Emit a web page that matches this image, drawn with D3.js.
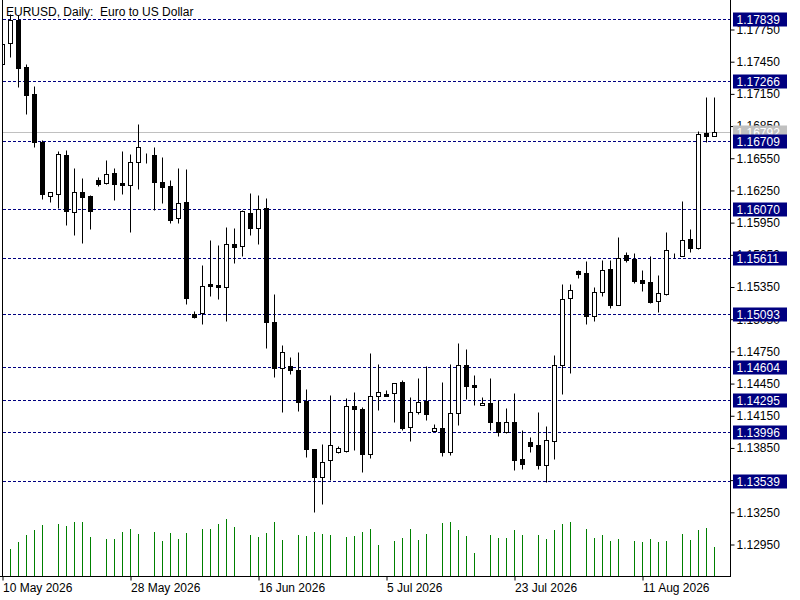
<!DOCTYPE html>
<html>
<head>
<meta charset="utf-8">
<script src="https://cdn.jsdelivr.net/npm/d3@7"></script>
<style>
  body { margin: 0; background: #fff; }
  svg { display: block; font-family: "Liberation Sans", Arial, sans-serif; }
</style>
</head>
<body>
<svg width="800" height="600"></svg>
<script>
// ### Data ###
// bar index -1 is the partly hidden bar at the left edge
var firstBar = -1;
var opens = [1.17424,1.17617,1.17838,1.17393,1.17142,1.16695,1.16197,1.16210,1.16576,1.16043,
  1.16232,1.16194,1.16341,1.16313,1.16409,1.16315,1.16294,1.16508,1.16583,1.16576,
  1.16325,1.16288,1.15987,1.16138,1.15098,1.15102,1.15375,1.15368,1.15344,1.15747,
  1.15731,1.16036,1.15894,1.16085,1.15018,1.14586,1.14608,1.14571,1.14285,1.13838,
  1.13574,1.13732,1.13803,1.13816,1.14235,1.14210,1.13785,1.14325,1.14350,1.14357,
  1.14462,1.14036,1.14180,1.14285,1.14002,1.14030,1.13803,1.14170,1.14617,1.14431,
  1.14245,1.14266,1.14089,1.13990,1.14089,1.13745,1.13900,1.13872,1.13682,1.13909,
  1.14615,1.15241,1.15496,1.15477,1.15079,1.15297,1.15514,1.15179,1.15645,1.15608,
  1.15412,1.15393,1.15214,1.15284,1.15638,1.15633,1.15791,1.15713,1.16778,1.16756];
var highs = [1.17648,1.17890,1.17880,1.17424,1.17219,1.16716,1.16232,1.16614,1.16623,1.16455,
  1.16362,1.16201,1.16369,1.16530,1.16455,1.16614,1.16583,1.16865,1.16595,1.16654,
  1.16555,1.16343,1.16452,1.16443,1.15123,1.15554,1.15785,1.15738,1.15906,1.15896,
  1.16060,1.16222,1.16201,1.16173,1.15279,1.14806,1.14692,1.14738,1.14397,1.13840,
  1.13884,1.14341,1.13868,1.14310,1.14371,1.14229,1.14732,1.14629,1.14384,1.14455,
  1.14480,1.14319,1.14496,1.14611,1.14068,1.14459,1.14629,1.14822,1.14769,1.14527,
  1.14319,1.14496,1.14291,1.14217,1.14357,1.14015,1.13947,1.14182,1.14049,1.14713,
  1.15375,1.15375,1.15500,1.15589,1.15347,1.15598,1.15598,1.15812,1.15673,1.15663,
  1.15505,1.15635,1.15458,1.15859,1.15663,1.16148,1.15887,1.16800,1.17117,1.17117];
var lows = [1.17387,1.17492,1.17213,1.16955,1.16648,1.16166,1.16136,1.16083,1.15921,1.15828,
  1.15759,1.15884,1.16290,1.16303,1.16157,1.16213,1.15862,1.16257,1.16505,1.16064,
  1.16132,1.15946,1.15946,1.15186,1.15055,1.14999,1.15266,1.15232,1.15024,1.15573,
  1.15638,1.15831,1.15750,1.14781,1.14511,1.14176,1.14539,1.14185,1.13760,1.13244,
  1.13319,1.13542,1.13794,1.13807,1.13822,1.13617,1.13747,1.14201,1.14331,1.14083,
  1.14008,1.13906,1.14161,1.14108,1.14000,1.13766,1.13775,1.14058,1.14301,1.14241,
  1.14243,1.14015,1.13952,1.13980,1.13636,1.13649,1.13803,1.13645,1.13527,1.13738,
  1.14347,1.14548,1.15433,1.15005,1.15024,1.15266,1.15145,1.15173,1.15582,1.15387,
  1.15312,1.15200,1.15114,1.15275,1.15620,1.15630,1.15670,1.15701,1.16695,1.16750];
var closes = [1.17610,1.17835,1.17390,1.17138,1.16695,1.16216,1.16229,1.16586,1.16057,1.16229,
  1.16188,1.16057,1.16309,1.16399,1.16303,1.16294,1.16508,1.16648,1.16583,1.16322,
  1.16281,1.15974,1.16126,1.15247,1.15067,1.15353,1.15359,1.15350,1.15747,1.15717,
  1.16055,1.15894,1.16073,1.15018,1.14586,1.14738,1.14576,1.14269,1.13831,1.13572,
  1.13714,1.13872,1.13847,1.14235,1.14204,1.13785,1.14329,1.14366,1.14334,1.14446,
  1.14033,1.14180,1.14275,1.14157,1.14030,1.13803,1.14173,1.14617,1.14427,1.14409,
  1.14266,1.14083,1.13996,1.14089,1.13729,1.13691,1.13868,1.13682,1.13919,1.14615,
  1.15235,1.15316,1.15471,1.15079,1.15297,1.15502,1.15173,1.15614,1.15601,1.15405,
  1.15387,1.15207,1.15288,1.15689,1.15638,1.15782,1.15713,1.16769,1.16756,1.16792];
// tick volume, thousands
var volumes = [0,27,34,41,46,51,0,52,50,54,54,39,0,37,37,44,47,42,0,44,35,43,37,43,0,
  47,47,52,57,49,0,41,39,43,54,36,0,41,40,44,42,41,0,39,40,44,47,31,0,35,38,47,36,42,0,
  53,54,46,40,23,0,41,38,38,46,41,0,41,37,46,52,54,0,47,38,41,35,37,0,35,34,37,34,35,0,
  42,36,46,48,29];

var levels = [1.17839,1.17266,1.16709,1.16070,1.15611,1.15093,1.14604,1.14295,1.13996,1.13539];
var lastPrice = 1.16792;

var yTicks = [1.17750,1.17450,1.17150,1.16850,1.16550,1.16250,1.15950,1.15650,1.15350,
  1.15050,1.14750,1.14450,1.14150,1.13850,1.13550,1.13250,1.12950];
var xTickBars = [-1,15,31,47,63,79];
var xTickLabels = ["10 May 2026","28 May 2026","16 Jun 2026","5 Jul 2026","23 Jul 2026","11 Aug 2026"];

var bars = opens.map(function(o, i) {
  return {i: i + firstBar, o: o, h: highs[i], l: lows[i], c: closes[i], v: volumes[i]};
});

// ### Canvas ###
var svg = d3.select('svg');
var plotLeft = 3, plotRight = 730, plotBottom = 576;

var xScale = d3.scaleLinear().domain([-1, 88]).range([2.5, 714.5]);
var yScale = d3.scaleLinear().domain([1.12950, 1.17750]).range([544, 29]);
var vScale = d3.scaleLinear().domain([0, 57]).range([plotBottom, plotBottom - 57]);

function py(p) { return Math.round(yScale(p)) + 0.5; }

svg.append('clipPath').attr('id', 'plot')
  .append('rect').attr('x', plotLeft).attr('y', 0)
  .attr('width', plotRight - plotLeft).attr('height', plotBottom);

var plot = svg.append('g').attr('clip-path', 'url(#plot)');

// ### Volumes ###
plot.selectAll('line.vol')
  .data(bars.filter(function(d) { return d.v > 0; }))
  .enter().append('line')
  .attr('class', 'vol')
  .attr('x1', function(d) { return xScale(d.i); })
  .attr('x2', function(d) { return xScale(d.i); })
  .attr('y1', plotBottom)
  .attr('y2', function(d) { return Math.round(vScale(d.v)); })
  .attr('stroke', '#008000')
  .attr('stroke-width', 1);

// ### Levels ###
plot.selectAll('line.level')
  .data(levels)
  .enter().append('line')
  .attr('class', 'level')
  .attr('x1', plotLeft).attr('x2', plotRight)
  .attr('y1', py).attr('y2', py)
  .attr('stroke', '#000080')
  .attr('stroke-dasharray', '3,2');

plot.append('line')
  .attr('x1', plotLeft).attr('x2', plotRight)
  .attr('y1', py(lastPrice)).attr('y2', py(lastPrice))
  .attr('stroke', '#c0c0c0');

// ### Candles ###
var candle = plot.selectAll('g.candle')
  .data(bars)
  .enter().append('g')
  .attr('class', 'candle');

candle.append('line')
  .attr('x1', function(d) { return xScale(d.i); })
  .attr('x2', function(d) { return xScale(d.i); })
  .attr('y1', function(d) { return py(d.h); })
  .attr('y2', function(d) { return py(d.l); })
  .attr('stroke', '#000');

candle.append('rect')
  .attr('x', function(d) { return xScale(d.i) - 2; })
  .attr('y', function(d) { return py(Math.max(d.o, d.c)); })
  .attr('width', 4)
  .attr('height', function(d) { return py(Math.min(d.o, d.c)) - py(Math.max(d.o, d.c)); })
  .attr('fill', function(d) { return d.c >= d.o ? '#fff' : '#000'; })
  .attr('stroke', '#000');

// ### Frame and axes ###
svg.append('line').attr('x1', 2.5).attr('x2', 2.5).attr('y1', 0).attr('y2', plotBottom).attr('stroke', '#000');
svg.append('line').attr('x1', plotRight + 0.5).attr('x2', plotRight + 0.5).attr('y1', 0).attr('y2', plotBottom + 0.5).attr('stroke', '#000');
svg.append('line').attr('x1', 0).attr('x2', plotRight + 1).attr('y1', plotBottom + 0.5).attr('y2', plotBottom + 0.5).attr('stroke', '#000');

var yAxis = d3.axisRight(yScale)
  .tickValues(yTicks)
  .tickSize(4)
  .tickPadding(2)
  .tickFormat(d3.format('.5f'));

var yg = svg.append('g')
  .attr('transform', 'translate(' + (plotRight + 0.5) + ',0.5)')
  .call(yAxis);
yg.select('.domain').remove();
yg.selectAll('text').attr('font-size', 12).attr('font-family', '"Liberation Sans", Arial, sans-serif').attr('fill', '#000');

var xAxis = d3.axisBottom(xScale)
  .tickValues(xTickBars)
  .tickSize(4)
  .tickFormat(function(d, i) { return xTickLabels[i]; });

var xg = svg.append('g')
  .attr('transform', 'translate(0,' + (plotBottom + 0.5) + ')')
  .call(xAxis);
xg.select('.domain').remove();
xg.selectAll('text')
  .attr('text-anchor', 'start')
  .attr('dy', null)
  .attr('y', 15.5)
  .attr('font-size', 12)
  .attr('font-family', '"Liberation Sans", Arial, sans-serif')
  .attr('fill', '#000');

// ### Price labels ###
function priceTag(p, bg) {
  var g = svg.append('g').attr('transform', 'translate(733,' + py(p) + ')');
  g.append('rect').attr('x', 0).attr('y', -7).attr('width', 54).attr('height', 14).attr('fill', bg);
  g.append('text').attr('x', 3.5).attr('y', 0).attr('dy', '0.35em')
    .attr('font-size', 12).attr('fill', '#fff').text(d3.format('.5f')(p));
}
priceTag(lastPrice, '#c0c0c0');
levels.forEach(function(p) { priceTag(p, '#000080'); });

// ### Title ###
svg.append('text')
  .attr('x', 6).attr('y', 16)
  .attr('font-size', 12)
  .style('white-space', 'pre')
  .text('EURUSD, Daily:  Euro to US Dollar');
</script>
</body>
</html>
